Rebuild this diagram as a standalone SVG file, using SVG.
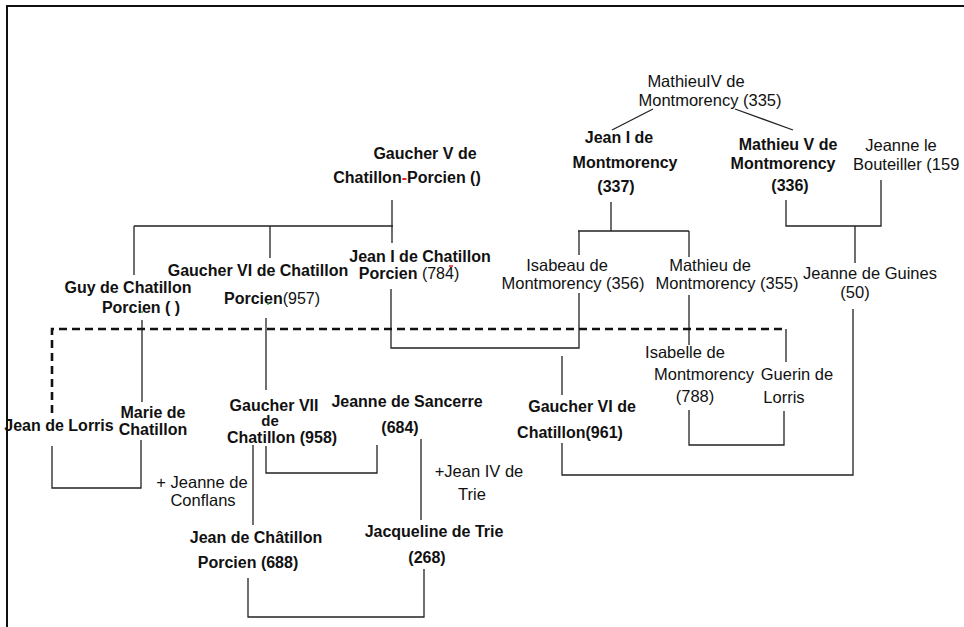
<svg xmlns="http://www.w3.org/2000/svg" width="964" height="627" viewBox="0 0 964 627">
<style>
text{font-family:"Liberation Sans",Arial,sans-serif;fill:#111;text-anchor:middle}
.r{font-size:16.5px}
.b{font-size:16px;font-weight:bold}
.t{font-size:15px;font-weight:bold}
.n{font-weight:normal}
.ln{fill:none;stroke:#222;stroke-width:1.3}
.dash{fill:none;stroke:#111;stroke-width:2.6;stroke-dasharray:8 5}
.frame{fill:none;stroke:#111;stroke-width:2}
</style>
<rect width="964" height="627" fill="#fff"/>
<path class="frame" d="M7,627 V6 H964"/>
<g id="connectors">
<path class="ln" d="M653,109 L612,130"/>
<path class="ln" d="M735,109 L793,130"/>
<path class="ln" d="M392,200 V243 M134,226 H393 M134,226 V275 M270,226 V258"/>
<path class="ln" d="M611,202 V231 M578,231 H689 M579,231 V255 M689,231 V257"/>
<path class="ln" d="M786,200 V226 H881 V180 M855,226 V263"/>
<path class="ln" d="M142,320 V402"/>
<path class="ln" d="M266,318 V390"/>
<path class="ln" d="M391,289 V348 H579 V293"/>
<path class="ln" d="M689,295 V345"/>
<path class="dash" d="M52,413 V329 H786"/>
<path class="ln" d="M786,329 V362"/>
<path class="ln" d="M853,309 V475 H562 V443 M562,356 V395"/>
<path class="ln" d="M689,410 V445 H784 V411"/>
<path class="ln" d="M52,446 V488 H141 V440"/>
<path class="ln" d="M266,446 V473 H377 V445"/>
<path class="ln" d="M253,445 V525"/>
<path class="ln" d="M421,439 V520"/>
<path class="ln" d="M248,578 V617 H424 V569"/>
</g>
<g id="mathieu4"><text class="r" x="696" y="87">MathieuIV de</text><text class="r" x="710" y="106">Montmorency (335)</text></g>
<g id="jean1montmorency"><text class="b" x="619" y="143">Jean I de</text><text class="b" x="625" y="168">Montmorency</text><text class="b" x="616" y="192">(337)</text></g>
<g id="mathieu5"><text class="b" x="788" y="150">Mathieu V de</text><text class="b" x="783" y="169">Montmorency</text><text class="b" x="790" y="191">(336)</text></g>
<g id="jeannebouteiller"><text class="r" x="901" y="151">Jeanne le</text><text class="r" x="853" y="170" style="text-anchor:start">Bouteiller (159</text></g>
<g id="gaucher5"><text class="b" x="425" y="159">Gaucher V de</text><text class="b" x="407" y="183">Chatillon<tspan fill="#e02020">-</tspan>Porcien ()</text></g>
<g id="guy"><text class="b" x="128" y="293">Guy de Chatillon</text><text class="b" x="141" y="313">Porcien (    )</text><circle cx="142" cy="312" r="1" fill="#2a2"/></g>
<g id="gaucher6p"><text class="b" x="258" y="276">Gaucher VI de Chatillon</text><text class="b" x="272" y="304">Porcien<tspan class="n">(957)</tspan></text><circle cx="268" cy="304" r="1" fill="#2a2"/></g>
<g id="jean1chatillon"><text class="b" x="420" y="262">Jean I de Chatillon</text><text class="b" x="409" y="279">Porcien <tspan class="n">(784)</tspan></text><path d="M449,266 h4" stroke="#e02020" stroke-width="1.5"/></g>
<g id="isabeau"><text class="r" x="567" y="271">Isabeau de</text><text class="r" x="573" y="289">Montmorency (356)</text></g>
<g id="mathieudem"><text class="r" x="710" y="271">Mathieu de</text><text class="r" x="727" y="289">Montmorency (355)</text></g>
<g id="jeanneguines"><text class="r" x="870" y="279">Jeanne de Guines</text><text class="r" x="855" y="298">(50)</text></g>
<g id="isabelle"><text class="r" x="685" y="358">Isabelle de</text><text class="r" x="704" y="380">Montmorency</text><text class="r" x="695" y="402">(788)</text></g>
<g id="guerin"><text class="r" x="797" y="380">Guerin de</text><text class="r" x="784" y="403">Lorris</text></g>
<g id="gaucher6c"><text class="b" x="582" y="412">Gaucher VI de</text><text class="b" x="570" y="438">Chatillon(961)</text></g>
<g id="jean4trie"><text class="r" x="479" y="477">+Jean IV de</text><text class="r" x="472" y="500">Trie</text></g>
<g id="jeannesancerre"><text class="b" x="407" y="407">Jeanne de Sancerre</text><text class="b" x="400" y="433">(684)</text></g>
<g id="gaucher7"><text class="b" x="274" y="411">Gaucher VII</text><text class="t" x="270" y="426">de</text><text class="b" x="282" y="443">Chatillon (958)</text></g>
<g id="jeanlorris"><text class="b" x="59" y="431">Jean de Lorris</text></g>
<g id="mariechatillon"><text class="b" x="153" y="418">Marie de</text><text class="b" x="153" y="435">Chatillon</text></g>
<g id="jeanneconflans"><text class="r" x="202" y="488">+ Jeanne de</text><text class="r" x="203" y="506">Conflans</text></g>
<g id="jeanchatillon688"><text class="b" x="256" y="543">Jean de Châtillon</text><text class="b" x="248" y="568">Porcien<tspan class="n"> </tspan>(688)</text></g>
<g id="jacqueline"><text class="b" x="434" y="537">Jacqueline de Trie</text><text class="b" x="427" y="563">(268)</text></g>
</svg>
